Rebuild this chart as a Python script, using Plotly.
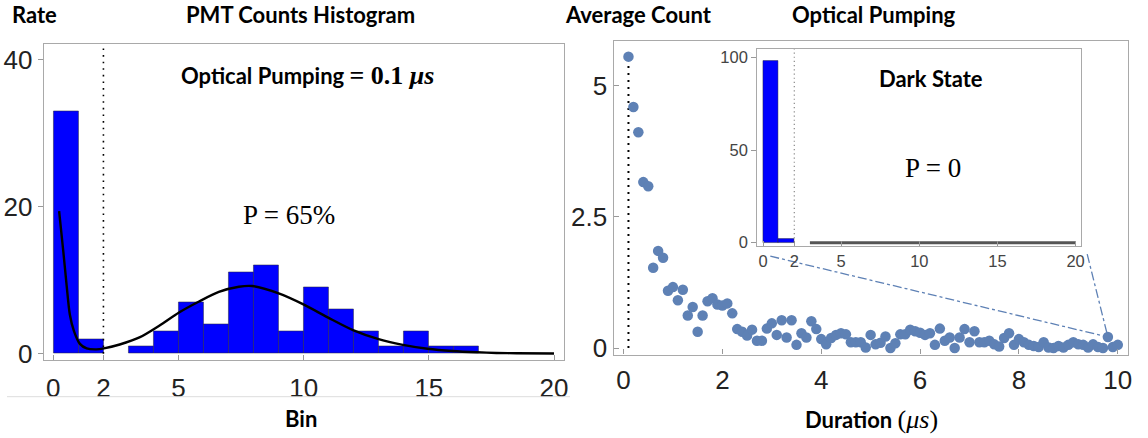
import plotly.graph_objects as go

W, H = 1148, 438

# ---------------- data ----------------
# Left histogram (bins of width 1 starting at bin_starts)
bin_starts = [0, 1, 2, 3, 4, 5, 6, 7, 8, 9, 10, 11, 12, 13, 14, 15, 16]
bin_counts = [33, 2, 0, 1, 3, 7, 4, 11, 12, 3, 9, 6, 3, 1, 3, 1, 1]

# fitted curve
fit_x = [0.23, 0.40, 0.53, 0.66, 0.82, 1.06, 1.33, 1.72, 2.02, 2.65, 3.44, 4.23,
         5.02, 5.82, 6.61, 7.41, 7.94, 9.0, 9.99, 10.98, 11.97, 12.96, 13.96,
         14.95, 15.94, 16.93, 17.7, 18.5, 20.0]
fit_y = [19.4, 13.8, 9.3, 5.3, 3.1, 1.33, 0.71, 0.58, 0.71, 1.24, 2.2, 3.8,
         5.6, 7.1, 8.4, 9.1, 9.2, 8.2, 6.7, 4.9, 3.2, 2.0, 1.2,
         0.67, 0.36, 0.18, 0.09, 0.05, 0.02]
threshold = 2

# Right scatter: average count vs duration
durations = [0.1, 0.2, 0.3, 0.4, 0.5, 0.6, 0.7, 0.8, 0.9, 1.0,
             1.1, 1.2, 1.3, 1.4, 1.5, 1.6, 1.7, 1.8, 1.9, 2.0,
             2.1, 2.2, 2.3, 2.4, 2.5, 2.6, 2.7, 2.8, 2.9, 3.0,
             3.1, 3.2, 3.3, 3.4, 3.5, 3.6, 3.7, 3.8, 3.9, 4.0,
             4.1, 4.2, 4.3, 4.4, 4.5, 4.6, 4.7, 4.8, 4.9, 5.0,
             5.1, 5.2, 5.3, 5.4, 5.5, 5.6, 5.7, 5.8, 5.9, 6.0,
             6.1, 6.2, 6.3, 6.4, 6.5, 6.6, 6.7, 6.8, 6.9, 7.0,
             7.1, 7.2, 7.3, 7.4, 7.5, 7.6, 7.7, 7.8, 7.9, 8.0,
             8.1, 8.2, 8.3, 8.4, 8.5, 8.6, 8.7, 8.8, 8.9, 9.0,
             9.1, 9.2, 9.3, 9.4, 9.5, 9.6, 9.7, 9.8, 9.9, 10.0]
avg_count = [5.55, 4.59, 4.11, 3.16, 3.08, 1.53, 1.85, 1.72, 1.09, 1.16,
             0.91, 1.11, 0.62, 0.78, 0.31, 0.62, 0.89, 0.95, 0.83, 0.81,
             0.85, 0.66, 0.36, 0.31, 0.24, 0.35, 0.14, 0.14, 0.37, 0.47,
             0.25, 0.53, 0.20, 0.53, 0.06, 0.28, 0.20, 0.51, 0.36, 0.17,
             0.07, 0.19, 0.25, 0.28, 0.26, 0.11, 0.11, 0.11, 0.01, 0.25,
             0.07, 0.10, 0.22, 0.00, 0.09, 0.26, 0.26, 0.35, 0.32, 0.29,
             0.25, 0.28, 0.06, 0.37, 0.14, 0.20, 0.00, 0.20, 0.36, 0.11,
             0.32, 0.11, 0.11, 0.14, 0.07, 0.03, 0.19, 0.28, 0.06, 0.17,
             0.11, 0.06, 0.04, 0.02, 0.11, 0.01, 0.00, 0.04, 0.01, 0.06,
             0.11, 0.07, 0.06, 0.01, 0.07, 0.02, 0.00, 0.21, 0.02, 0.06]
highlight_index = 97

# Inset histogram (dark state)
inset_starts = [0, 1]
inset_counts = [98, 2]
inset_empty = [3, 20]

# ---------------- layout helpers ----------------
def px(x):
    return x / W

def py(y):
    return 1 - y / H

L_dom_x = [px(44), px(566)]
L_dom_y = [py(366.7), py(44.3)]
L_rx = [-0.38, 20.4]
L_ry = [-0.89, 42.09]

R_dom_x = [px(615.7), px(1131.7)]
R_dom_y = [py(361), py(41)]
R_rx = [-0.2016, 10.2016]
R_ry = [-0.125, 5.845]

I_dom_x = [px(760), px(1085)]
I_dom_y = [py(250.5), py(49)]
I_rx = [-0.364, 20.36]
I_ry = [-2.01, 104.6]

BLUE = "#0000FF"
PT = "#5E81B5"
FRAME = "#a9a9a9"
TICKC = "#999999"
SANS = "Liberation Sans, Arial, sans-serif"
LABEL = "Lato, Calibri, sans-serif"
SERIF = "Liberation Serif, Times New Roman, serif"

fig = go.Figure()

# left histogram
fig.add_trace(go.Bar(
    x=[s + 0.5 for s in bin_starts],
    y=[c if c > 0 else None for c in bin_counts],
    width=1, marker=dict(color=BLUE, line=dict(color="rgba(40,40,60,0.65)", width=0.8)),
    xaxis="x", yaxis="y", showlegend=False, hoverinfo="skip"))
fig.add_trace(go.Scatter(
    x=fit_x, y=fit_y, mode="lines", line=dict(color="black", width=2.4, shape="spline", smoothing=0.8),
    xaxis="x", yaxis="y", showlegend=False, hoverinfo="skip"))

# right scatter
fig.add_trace(go.Scatter(
    x=durations, y=avg_count, mode="markers",
    marker=dict(color=PT, size=10.5, line=dict(width=0)),
    xaxis="x2", yaxis="y2", showlegend=False, hoverinfo="skip"))

# inset
fig.add_trace(go.Bar(
    x=[s + 0.5 for s in inset_starts], y=inset_counts, width=1,
    marker=dict(color=BLUE, line=dict(color="rgba(40,40,60,0.6)", width=0.8)),
    xaxis="x3", yaxis="y3", showlegend=False, hoverinfo="skip"))
fig.add_trace(go.Scatter(
    x=inset_empty, y=[0, 0], mode="lines", line=dict(color="#555555", width=3),
    xaxis="x3", yaxis="y3", showlegend=False, hoverinfo="skip"))

shapes = []
# threshold lines
shapes.append(dict(type="line", xref="x", yref="y", x0=threshold, x1=threshold,
                   y0=0, y1=L_ry[1], line=dict(color="black", width=1.6, dash="1.6px,5px")))
shapes.append(dict(type="line", xref="x3", yref="y3", x0=threshold, x1=threshold,
                   y0=0, y1=I_ry[1], line=dict(color="#888888", width=1.2, dash="1.2px,3px")))
shapes.append(dict(type="line", xref="x2", yref="y2", x0=durations[0], x1=durations[0],
                   y0=0, y1=avg_count[0], line=dict(color="black", width=2, dash="2px,5px"),
                   layer="below"))

# connectors from inset to highlighted point
def to_paper(v, dom, rng):
    return dom[0] + (v - rng[0]) / (rng[1] - rng[0]) * (dom[1] - dom[0])

hx = to_paper(durations[highlight_index], R_dom_x, R_rx)
hy = to_paper(avg_count[highlight_index], R_dom_y, R_ry)
starts = [(I_dom_x[0] + px(13), I_dom_y[0] - 10 / H),
          (I_dom_x[1] + px(6), I_dom_y[0] - 8 / H)]
for sx, sy in starts:
    shapes.append(dict(type="line", xref="paper", yref="paper", x0=sx, y0=sy, x1=hx, y1=hy,
                       line=dict(color=PT, width=1.3, dash="dashdot"), layer="below"))

# light separator line under left panel
shapes.append(dict(type="line", xref="paper", yref="paper", x0=px(7), x1=px(572),
                   y0=py(404), y1=py(404), line=dict(color="#dddddd", width=1)))

def axis(dom, rng, anchor, tickvals, ticktext=None, ticks="inside", size=26,
         color="#222222", standoff=None):
    d = dict(domain=dom, range=rng, anchor=anchor, tickvals=tickvals,
             ticks=ticks, ticklen=5, tickcolor=TICKC, tickwidth=1,
             showline=True, mirror=True, linecolor=FRAME, linewidth=1.3,
             showgrid=False, zeroline=False, fixedrange=True,
             tickfont=dict(family=SANS, size=size, color=color))
    if ticktext is not None:
        d["ticktext"] = ticktext
    if standoff is not None:
        d["ticklabelstandoff"] = standoff
    return d

fig.update_layout(
    width=W, height=H, margin=dict(l=0, r=0, t=0, b=0),
    paper_bgcolor="white", plot_bgcolor="white", bargap=0,
    xaxis=axis(L_dom_x, L_rx, "y", [0, 2, 5, 10, 15, 20], standoff=4),
    yaxis=axis(L_dom_y, L_ry, "x", [0, 20, 40], ticks="outside"),
    xaxis2=axis(R_dom_x, R_rx, "y2", [0, 2, 4, 6, 8, 10], standoff=2),
    yaxis2=axis(R_dom_y, R_ry, "x2", [0, 2.5, 5], ["0", "2.5", "5"]),
    xaxis3=axis(I_dom_x, I_rx, "y3", [0, 2, 5, 10, 15, 20], size=16.5, color="#444444"),
    yaxis3=axis(I_dom_y, I_ry, "x3", [0, 50, 100], ticks="outside", size=16.5, color="#444444"),
    shapes=shapes,
)

def ann(text, x, y, size=22, family=LABEL, xanchor="center"):
    return dict(text=text, x=px(x), y=py(y), xref="paper", yref="paper",
                xanchor=xanchor, yanchor="middle", showarrow=False,
                font=dict(family=family, size=size, color="black"))

annotations = [
    ann("<b>Rate</b>", 10, 14, xanchor="left"),
    ann("<b>PMT Counts Histogram</b>", 302, 14),
    ann("<b>Average Count</b>", 641, 14),
    ann("<b>Optical Pumping</b>", 877, 14),
    ann("<b>Bin</b>", 302, 426),
    ann("<b>Duration </b><span style='font-family:Liberation Serif;font-size:26px'>(<i>μs</i>)</span>", 875, 427),
    ann("<b>Optical Pumping <span style='font-family:Liberation Serif;font-size:26px'>= 0.1 <i>μs</i></span></b>", 309, 76),
    ann("P = 65%", 290, 218, size=27, family=SERIF),
    ann("<b>Dark State</b>", 934, 79),
    ann("P = 0", 936, 170, size=27, family=SERIF),
]
fig.update_layout(annotations=annotations)

fig.write_html("out.html")
